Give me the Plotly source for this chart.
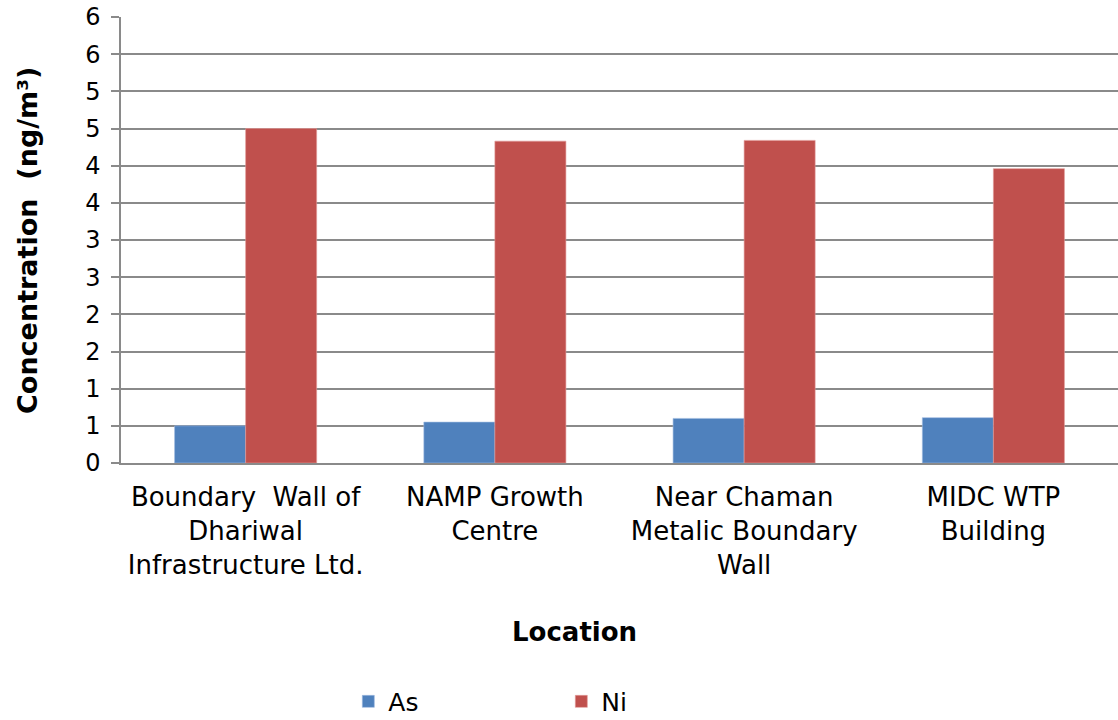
import plotly.graph_objects as go

locations = [
    "Boundary  Wall of<br>Dhariwal<br>Infrastructure Ltd.",
    "NAMP Growth<br>Centre",
    "Near Chaman<br>Metalic Boundary<br>Wall",
    "MIDC WTP<br>Building",
]
as_values = [0.50, 0.55, 0.60, 0.61]
ni_values = [4.50, 4.33, 4.34, 3.96]

y_tickvals = [0, 0.5, 1, 1.5, 2, 2.5, 3, 3.5, 4, 4.5, 5, 5.5, 6]
y_ticktext = ["0", "1", "1", "2", "2", "3", "3", "4", "4", "5", "5", "6", "6"]

FONT = "DejaVu Sans"
GRID = "#8a8a8a"

fig = go.Figure()
fig.add_trace(go.Bar(name="As", x=locations, y=as_values,
                     marker=dict(color="#4F81BD", line=dict(color="#9dbbe0", width=0.6))))
fig.add_trace(go.Bar(name="Ni", x=locations, y=ni_values,
                     marker=dict(color="#C0504D", line=dict(color="#e29a98", width=0.6))))

fig.update_layout(
    width=1118, height=720,
    margin=dict(l=121, r=0, t=17, b=257, autoexpand=False),
    paper_bgcolor="white", plot_bgcolor="white",
    barmode="group", bargap=0.43, bargroupgap=0,
    font=dict(family=FONT, color="black"),
    showlegend=True,
    legend=dict(orientation="h", x=0.228, y=-0.535, xanchor="left", yanchor="middle",
                font=dict(size=25, family=FONT), entrywidth=168, entrywidthmode="pixels",
                itemwidth=30, traceorder="normal"),
    xaxis=dict(showgrid=False, showline=True, linecolor=GRID, linewidth=2,
               ticks="", tickfont=dict(size=26, family=FONT), ticklabelstandoff=10,
               automargin=False),
    yaxis=dict(range=[0, 6], tickvals=y_tickvals, ticktext=y_ticktext,
               showgrid=True, gridcolor=GRID, gridwidth=1.5,
               showline=True, linecolor=GRID, linewidth=1.5,
               ticks="outside", ticklen=8, tickcolor=GRID, tickwidth=1.5,
               tickfont=dict(size=24, family=FONT), ticklabelstandoff=6,
               zeroline=False, automargin=False),
    annotations=[
        dict(text="<b>Location</b>", xref="paper", yref="paper", x=0.455, y=0,
             yshift=-169, xanchor="center", yanchor="middle", showarrow=False,
             font=dict(size=26, family=FONT)),
        dict(text="<b>Concentration  (ng/m³)</b>", xref="paper", yref="paper",
             x=-0.0943, y=0.5, xanchor="center", yanchor="middle", textangle=-90,
             showarrow=False, font=dict(size=27, family=FONT)),
    ],
)

fig.write_html("out.html")
